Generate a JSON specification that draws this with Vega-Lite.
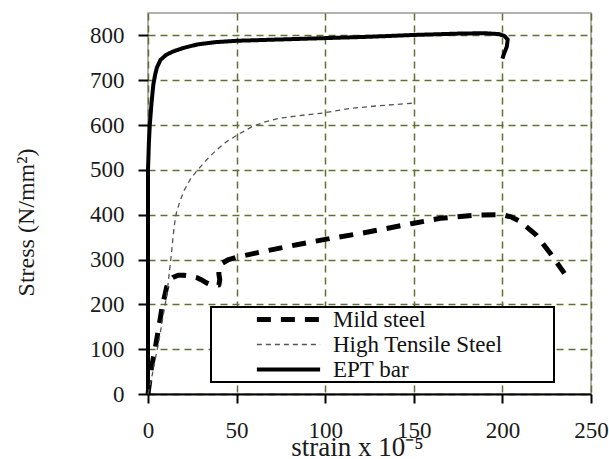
{
  "$schema": "https://vega.github.io/schema/vega-lite/v6.json",
  "width": 443,
  "height": 381,
  "autosize": {"type": "none"},
  "padding": {"left": 148, "top": 13, "right": 18, "bottom": 65},
  "background": "white",
  "config": {
    "font": "Liberation Serif",
    "view": {"stroke": "#999999", "strokeWidth": 1.5},
    "axis": {
      "labelFont": "Liberation Serif",
      "titleFont": "Liberation Serif",
      "labelFontSize": 23,
      "labelColor": "#1a1a1a",
      "titleColor": "#1a1a1a",
      "titleFontWeight": "normal",
      "gridColor": "#5f7030",
      "gridDash": [7, 5],
      "gridWidth": 1.5,
      "gridOpacity": 1,
      "tickColor": "#000000",
      "tickWidth": 2,
      "labelFlush": false,
      "labelOverlap": false
    },
    "legend": {
      "orient": "none",
      "legendX": 63,
      "legendY": 294,
      "symbolType": "stroke",
      "symbolSize": 4000,
      "clipHeight": 25,
      "rowPadding": 0,
      "padding": 0,
      "symbolOffset": 43,
      "labelOffset": 10,
      "labelFont": "Liberation Serif",
      "labelFontSize": 23,
      "labelColor": "#111111",
      "labelLimit": 0,
      "fillColor": "white",
      "strokeColor": "#000000"
    }
  },
  "data": {
    "values": [
      {"s": "EPT bar", "i": 1, "x": 0, "y": 0},
      {"s": "EPT bar", "i": 2, "x": 0, "y": 300},
      {"s": "EPT bar", "i": 3, "x": 0, "y": 500},
      {"s": "EPT bar", "i": 4, "x": 0.5, "y": 560},
      {"s": "EPT bar", "i": 5, "x": 1, "y": 600},
      {"s": "EPT bar", "i": 6, "x": 2, "y": 650},
      {"s": "EPT bar", "i": 7, "x": 3, "y": 690},
      {"s": "EPT bar", "i": 8, "x": 4, "y": 712},
      {"s": "EPT bar", "i": 9, "x": 5, "y": 728},
      {"s": "EPT bar", "i": 10, "x": 7, "y": 745},
      {"s": "EPT bar", "i": 11, "x": 10, "y": 756},
      {"s": "EPT bar", "i": 12, "x": 14, "y": 764},
      {"s": "EPT bar", "i": 13, "x": 20, "y": 772},
      {"s": "EPT bar", "i": 14, "x": 28, "y": 780},
      {"s": "EPT bar", "i": 15, "x": 38, "y": 785},
      {"s": "EPT bar", "i": 16, "x": 50, "y": 788},
      {"s": "EPT bar", "i": 17, "x": 75, "y": 791},
      {"s": "EPT bar", "i": 18, "x": 100, "y": 794},
      {"s": "EPT bar", "i": 19, "x": 125, "y": 797},
      {"s": "EPT bar", "i": 20, "x": 150, "y": 801},
      {"s": "EPT bar", "i": 21, "x": 175, "y": 804},
      {"s": "EPT bar", "i": 22, "x": 190, "y": 805},
      {"s": "EPT bar", "i": 23, "x": 198, "y": 803},
      {"s": "EPT bar", "i": 24, "x": 201, "y": 799},
      {"s": "EPT bar", "i": 25, "x": 203, "y": 791},
      {"s": "EPT bar", "i": 26, "x": 202.5, "y": 775},
      {"s": "EPT bar", "i": 27, "x": 201, "y": 760},
      {"s": "EPT bar", "i": 28, "x": 200, "y": 748},

      {"s": "Mild steel", "i": 1, "x": 0, "y": 0},
      {"s": "Mild steel", "i": 2, "x": 1, "y": 30},
      {"s": "Mild steel", "i": 3, "x": 2, "y": 61},
      {"s": "Mild steel", "i": 4, "x": 4, "y": 100},
      {"s": "Mild steel", "i": 5, "x": 5.5, "y": 136},
      {"s": "Mild steel", "i": 6, "x": 7, "y": 170},
      {"s": "Mild steel", "i": 7, "x": 8, "y": 195},
      {"s": "Mild steel", "i": 8, "x": 9.5, "y": 220},
      {"s": "Mild steel", "i": 9, "x": 10.5, "y": 238},
      {"s": "Mild steel", "i": 10, "x": 12, "y": 252},
      {"s": "Mild steel", "i": 11, "x": 14, "y": 260},
      {"s": "Mild steel", "i": 12, "x": 17, "y": 265},
      {"s": "Mild steel", "i": 13, "x": 20, "y": 265},
      {"s": "Mild steel", "i": 14, "x": 24, "y": 263},
      {"s": "Mild steel", "i": 15, "x": 28, "y": 259},
      {"s": "Mild steel", "i": 16, "x": 30, "y": 255},
      {"s": "Mild steel", "i": 17, "x": 33, "y": 248},
      {"s": "Mild steel", "i": 18, "x": 36, "y": 243},
      {"s": "Mild steel", "i": 19, "x": 40, "y": 243},
      {"s": "Mild steel", "i": 20, "x": 40.5, "y": 255},
      {"s": "Mild steel", "i": 21, "x": 40, "y": 268},
      {"s": "Mild steel", "i": 22, "x": 40, "y": 278},
      {"s": "Mild steel", "i": 23, "x": 42, "y": 292},
      {"s": "Mild steel", "i": 24, "x": 45, "y": 299},
      {"s": "Mild steel", "i": 25, "x": 50, "y": 305},
      {"s": "Mild steel", "i": 26, "x": 65, "y": 318},
      {"s": "Mild steel", "i": 27, "x": 84, "y": 333},
      {"s": "Mild steel", "i": 28, "x": 100, "y": 345},
      {"s": "Mild steel", "i": 29, "x": 121, "y": 359},
      {"s": "Mild steel", "i": 30, "x": 150, "y": 381},
      {"s": "Mild steel", "i": 31, "x": 165, "y": 392},
      {"s": "Mild steel", "i": 32, "x": 185, "y": 399},
      {"s": "Mild steel", "i": 33, "x": 200, "y": 400},
      {"s": "Mild steel", "i": 34, "x": 205, "y": 395},
      {"s": "Mild steel", "i": 35, "x": 210, "y": 385},
      {"s": "Mild steel", "i": 36, "x": 219, "y": 355},
      {"s": "Mild steel", "i": 37, "x": 227, "y": 314},
      {"s": "Mild steel", "i": 38, "x": 235, "y": 269},

      {"s": "High Tensile Steel", "i": 1, "x": 0, "y": 0},
      {"s": "High Tensile Steel", "i": 2, "x": 1, "y": 17},
      {"s": "High Tensile Steel", "i": 3, "x": 2.5, "y": 45},
      {"s": "High Tensile Steel", "i": 4, "x": 4, "y": 76},
      {"s": "High Tensile Steel", "i": 5, "x": 6, "y": 115},
      {"s": "High Tensile Steel", "i": 6, "x": 7.5, "y": 150},
      {"s": "High Tensile Steel", "i": 7, "x": 9, "y": 185},
      {"s": "High Tensile Steel", "i": 8, "x": 10.5, "y": 217},
      {"s": "High Tensile Steel", "i": 9, "x": 12, "y": 270},
      {"s": "High Tensile Steel", "i": 10, "x": 13, "y": 305},
      {"s": "High Tensile Steel", "i": 11, "x": 14, "y": 345},
      {"s": "High Tensile Steel", "i": 12, "x": 15, "y": 380},
      {"s": "High Tensile Steel", "i": 13, "x": 16, "y": 404},
      {"s": "High Tensile Steel", "i": 14, "x": 18, "y": 430},
      {"s": "High Tensile Steel", "i": 15, "x": 20.5, "y": 455},
      {"s": "High Tensile Steel", "i": 16, "x": 24, "y": 480},
      {"s": "High Tensile Steel", "i": 17, "x": 28, "y": 500},
      {"s": "High Tensile Steel", "i": 18, "x": 33, "y": 522},
      {"s": "High Tensile Steel", "i": 19, "x": 38.5, "y": 544},
      {"s": "High Tensile Steel", "i": 20, "x": 44, "y": 562},
      {"s": "High Tensile Steel", "i": 21, "x": 50, "y": 577},
      {"s": "High Tensile Steel", "i": 22, "x": 55, "y": 588},
      {"s": "High Tensile Steel", "i": 23, "x": 59, "y": 597},
      {"s": "High Tensile Steel", "i": 24, "x": 66, "y": 607},
      {"s": "High Tensile Steel", "i": 25, "x": 74, "y": 615},
      {"s": "High Tensile Steel", "i": 26, "x": 85, "y": 621},
      {"s": "High Tensile Steel", "i": 27, "x": 99, "y": 627},
      {"s": "High Tensile Steel", "i": 28, "x": 114, "y": 637},
      {"s": "High Tensile Steel", "i": 29, "x": 130, "y": 643},
      {"s": "High Tensile Steel", "i": 30, "x": 150, "y": 649}
    ]
  },
  "mark": {"type": "line", "strokeCap": "butt", "strokeJoin": "round"},
  "encoding": {
    "x": {
      "field": "x",
      "type": "quantitative",
      "scale": {"domain": [0, 250], "nice": false, "zero": false},
      "axis": {
        "values": [0, 50, 100, 150, 200, 250],
        "grid": true,
        "domain": true,
        "domainColor": "#000000",
        "domainWidth": 2,
        "tickSize": 9,
        "labelPadding": 16,
        "labelFont": "Liberation Serif",
        "labelFontSize": 23,
        "title": "strain x 10⁻⁵",
        "titleFont": "Liberation Serif",
        "titleFontSize": 27,
        "titleX": 209,
        "titleY": 61,
        "titleAlign": "center",
        "titleBaseline": "alphabetic"
      }
    },
    "y": {
      "field": "y",
      "type": "quantitative",
      "scale": {"domain": [0, 850], "nice": false},
      "axis": {
        "values": [0, 100, 200, 300, 400, 500, 600, 700, 800],
        "grid": true,
        "domain": false,
        "tickSize": 10,
        "labelPadding": 14,
        "labelFont": "Liberation Serif",
        "labelFontSize": 23,
        "title": "Stress (N/mm²)",
        "titleFont": "Liberation Serif",
        "titleFontSize": 24,
        "titleAngle": -90,
        "titleX": -122,
        "titleY": 209,
        "titleAlign": "center",
        "titleBaseline": "middle"
      }
    },
    "order": {"field": "i", "type": "quantitative"},
    "color": {
      "field": "s",
      "type": "nominal",
      "scale": {"domain": ["Mild steel", "High Tensile Steel", "EPT bar"], "range": ["#000000", "#555555", "#000000"]},
      "legend": {
        "title": null,
        "labelFont": "Liberation Serif",
        "labelFontSize": 23,
        "labelExpr": "datum.label + '\u2800\u2800\u2800'",
        "strokeColor": "#000000",
        "fillColor": "white",
        "padding": 0,
        "encode": {"legend": {"update": {"strokeWidth": {"value": 2}}}}
      }
    },
    "strokeDash": {
      "field": "s",
      "type": "nominal",
      "scale": {"domain": ["Mild steel", "High Tensile Steel", "EPT bar"], "range": [[14, 10], [5, 4], [1, 0]]},
      "legend": {"title": null}
    },
    "strokeWidth": {
      "field": "s",
      "type": "nominal",
      "scale": {"type": "ordinal", "domain": ["Mild steel", "High Tensile Steel", "EPT bar"], "range": [5, 1.3, 4]},
      "legend": {"title": null}
    }
  }
}
